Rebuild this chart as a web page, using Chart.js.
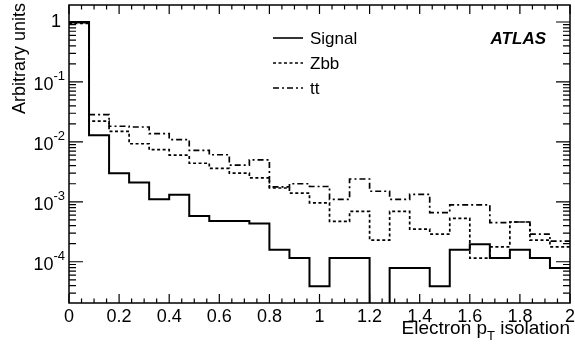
<!DOCTYPE html>
<html>
<head>
<meta charset="utf-8">
<script src="https://cdn.jsdelivr.net/npm/chart.js@4"></script>
<style>
  html, body { margin: 0; padding: 0; background: #fff; }
  #wrap { width: 575px; height: 347px; }
</style>
</head>
<body>
<div id="wrap"><canvas id="c" width="575" height="347"></canvas></div>
<script>
// histogram: 25 bins of 0.08 from 0 to 2
const binWidth = 0.08;
const signal = [1.0, 0.0129, 0.0030, 0.00209, 0.00110, 0.00131, 5.8e-4, 4.8e-4, 4.8e-4, 4.35e-4,
  1.59e-4, 1.15e-4, 3.9e-5, 1.15e-4, 1.15e-4, 1e-6, 7.9e-5, 7.9e-5, 3.9e-5, 1.59e-4,
  1.96e-4, 1.15e-4, 1.59e-4, 1.15e-4, 7.9e-5];
const zbb = [0.95, 0.0222, 0.0150, 0.0093, 0.0074, 0.0060, 0.0044, 0.0036, 0.0030, 0.0025,
  0.0017, 0.0014, 9.6e-4, 4.7e-4, 6.9e-4, 2.3e-4, 6.9e-4, 3.5e-4, 2.9e-4, 5.3e-4,
  1.15e-4, 1.77e-4, 4.6e-4, 2.3e-4, 1.77e-4];
const ttbar = [0.97, 0.0284, 0.0182, 0.0177, 0.0137, 0.0109, 0.0072, 0.0061, 0.0041, 0.0050,
  0.00177, 0.0020, 0.0018, 0.0011, 0.0024, 0.0015, 0.0011, 0.00133, 6.6e-4, 8.9e-4,
  8.9e-4, 4.5e-4, 4.6e-4, 2.9e-4, 2.2e-4];
const xTicks = [0, 0.2, 0.4, 0.6, 0.8, 1, 1.2, 1.4, 1.6, 1.8, 2];
const yTickExp = [0, -1, -2, -3, -4];

const FONT = '"Liberation Sans", Arial, sans-serif';

// points at bin low edges, plus closing point at upper edge
function toSteps(vals) {
  const pts = vals.map((v, i) => ({ x: i * binWidth, y: v }));
  pts.push({ x: vals.length * binWidth, y: vals[vals.length - 1] });
  return pts;
}

function drawSup(ctx, base, sup, xRight, y, size) {
  ctx.font = size + 'px ' + FONT;
  const wb = ctx.measureText(base).width;
  ctx.font = Math.round(size * 0.7) + 'px ' + FONT;
  const ws = sup ? ctx.measureText(sup).width : 0;
  const x0 = xRight - wb - ws;
  ctx.textAlign = 'left';
  ctx.textBaseline = 'middle';
  ctx.font = size + 'px ' + FONT;
  ctx.fillText(base, x0, y);
  if (sup) {
    ctx.font = Math.round(size * 0.7) + 'px ' + FONT;
    ctx.fillText(sup, x0 + wb, y - size * 0.45);
  }
}

const frame = {
  id: 'frame',
  afterDraw(chart) {
    const ctx = chart.ctx;
    const a = chart.chartArea;
    const xs = chart.scales.x, ys = chart.scales.y;
    ctx.save();
    ctx.strokeStyle = '#000';
    ctx.fillStyle = '#000';
    ctx.lineWidth = 1.5;
    ctx.strokeRect(a.left, a.top, a.right - a.left, a.bottom - a.top);
    ctx.lineWidth = 1.2;
    ctx.beginPath();
    // x ticks, top and bottom
    for (let k = 0; k <= 40; k++) {
      const v = k * 0.05;
      const px = xs.getPixelForValue(v);
      const len = (k % 4 === 0) ? 9 : 4.5;
      ctx.moveTo(px, a.bottom); ctx.lineTo(px, a.bottom - len);
      ctx.moveTo(px, a.top); ctx.lineTo(px, a.top + len);
    }
    // y ticks, left and right
    for (let e = -5; e <= 0; e++) {
      for (let m = 1; m <= 9; m++) {
        const v = m * Math.pow(10, e);
        if (v < ys.min || v > ys.max) continue;
        const py = ys.getPixelForValue(v);
        const len = m === 1 ? 14 : 7;
        ctx.moveTo(a.left, py); ctx.lineTo(a.left + len, py);
        ctx.moveTo(a.right, py); ctx.lineTo(a.right - len, py);
      }
    }
    ctx.stroke();

    // x tick labels
    ctx.font = '18px ' + FONT;
    ctx.textAlign = 'center';
    ctx.textBaseline = 'top';
    xTicks.forEach(v => ctx.fillText(String(v), xs.getPixelForValue(v), a.bottom + 5));

    // y tick labels
    yTickExp.forEach(e => {
      const py = ys.getPixelForValue(Math.pow(10, e));
      if (e === 0) drawSup(ctx, '1', '', a.left - 8, py, 18);
      else drawSup(ctx, '10', String(e), a.left - 4, py + 3, 18);
    });

    // x title with subscript
    ctx.textBaseline = 'alphabetic';
    ctx.textAlign = 'left';
    const big = '19px ' + FONT, small = '13px ' + FONT;
    ctx.font = big;
    const w1 = ctx.measureText('Electron p').width;
    const w3 = ctx.measureText(' isolation').width;
    ctx.font = small;
    const w2 = ctx.measureText('T').width;
    let tx = a.right - (w1 + w2 + w3);
    const ty = 334;
    ctx.font = big; ctx.fillText('Electron p', tx, ty);
    ctx.font = small; ctx.fillText('T', tx + w1, ty + 6);
    ctx.font = big; ctx.fillText(' isolation', tx + w1 + w2, ty);

    // y title
    ctx.save();
    ctx.translate(25, a.top - 2);
    ctx.rotate(-Math.PI / 2);
    ctx.font = '18px ' + FONT;
    ctx.textAlign = 'right';
    ctx.textBaseline = 'alphabetic';
    ctx.fillText('Arbitrary units', 0, 0);
    ctx.restore();

    // legend
    const leg = [
      ['Signal', [], 38],
      ['Zbb', [3, 2.5], 63],
      ['tt', [6, 3, 2, 3], 88]
    ];
    leg.forEach(([lab, dash, y]) => {
      ctx.beginPath();
      ctx.setLineDash(dash);
      ctx.lineWidth = 1.6;
      ctx.moveTo(273, y); ctx.lineTo(303, y);
      ctx.stroke();
      ctx.setLineDash([]);
      ctx.font = '17px ' + FONT;
      ctx.textAlign = 'left';
      ctx.textBaseline = 'middle';
      ctx.fillText(lab, 310, y + 1);
    });

    // ATLAS label
    ctx.font = 'italic bold 17px ' + FONT;
    ctx.textAlign = 'right';
    ctx.textBaseline = 'middle';
    ctx.fillText('ATLAS', 546, 39);
    ctx.restore();
  }
};

const common = { pointRadius: 0, borderColor: '#000', fill: false, stepped: 'before', borderWidth: 1.7 };

new Chart(document.getElementById('c'), {
  type: 'line',
  data: {
    datasets: [
      Object.assign({ label: 'Signal', data: toSteps(signal) }, common, { borderWidth: 2 }),
      Object.assign({ label: 'Zbb', data: toSteps(zbb), borderDash: [3, 2.5] }, common),
      Object.assign({ label: 'tt', data: toSteps(ttbar), borderDash: [6, 3, 2, 3] }, common)
    ]
  },
  options: {
    responsive: false,
    animation: false,
    layout: { padding: { left: 69, top: 5, right: 5, bottom: 44 } },
    plugins: { legend: { display: false }, tooltip: { enabled: false } },
    scales: {
      x: { type: 'linear', min: 0, max: 2, display: false },
      y: { type: 'logarithmic', min: 2.05e-5, max: 1.92, display: false }
    }
  },
  plugins: [frame]
});
</script>
</body>
</html>
